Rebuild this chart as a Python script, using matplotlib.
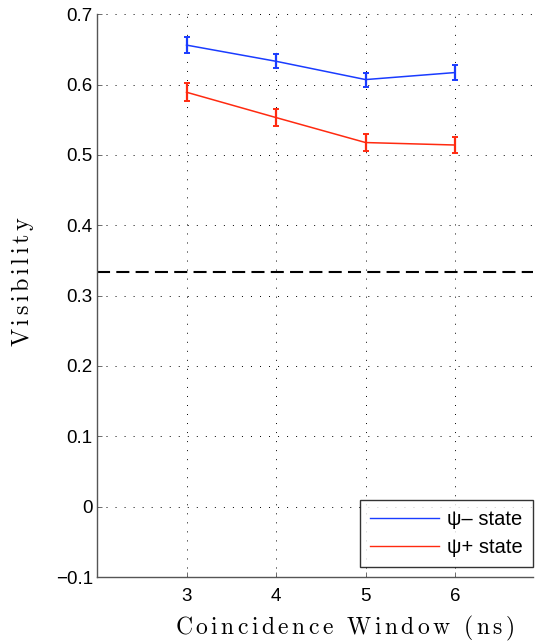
import matplotlib
matplotlib.use("Agg")
import matplotlib.pyplot as plt
import numpy as np

plt.rcParams['font.family'] = ['Liberation Sans', 'DejaVu Sans']
plt.rcParams['mathtext.fontset'] = 'cm'
plt.rcParams['lines.scale_dashes'] = False

# Data
window_ns = [3, 4, 5, 6]
vis_minus = [0.656, 0.633, 0.607, 0.617]
err_minus = [0.011, 0.010, 0.010, 0.011]
vis_plus = [0.589, 0.553, 0.5175, 0.514]
err_plus = [0.0125, 0.0115, 0.012, 0.0115]
classical_bound = 1 / 3
y_ticks = [-0.1, 0.0, 0.1, 0.2, 0.3, 0.4, 0.5, 0.6, 0.7]
labels = ['\u03c8\u2013 state', '\u03c8+ state']

blue = '#1a3cff'
red = '#ff2a10'


def spaced_cm(text):
    """Computer Modern text with a little tracking between letters."""
    parts = []
    for ch in text:
        if ch == ' ':
            parts.append(r'\ ')
        else:
            parts.append(ch)
    return '$\\mathrm{' + r'\,'.join(parts) + '}$'


fig = plt.figure(figsize=(5.36, 6.43), dpi=100)
ax = fig.add_axes([0.181, 0.1026, 0.8134, 0.8754])

ax.errorbar(window_ns, vis_minus, yerr=err_minus, color=blue, lw=1.1,
            elinewidth=1.6, capsize=2.3, capthick=1.4, zorder=3)
ax.errorbar(window_ns, vis_plus, yerr=err_plus, color=red, lw=1.1,
            elinewidth=1.6, capsize=2.3, capthick=1.4, zorder=3)
ax.axhline(classical_bound, color='black', lw=1.5, dashes=(9.4, 4.5), zorder=2)

ax.set_xlim(2, 6.87)
ax.set_ylim(-0.1, 0.7)
ax.set_xticks(window_ns)
ax.set_yticks(y_ticks)
ax.set_yticklabels(['\u22120.1' if v < 0 else ('0' if v == 0 else f'{v:.1f}') for v in y_ticks])

ax.grid(True, color='black', lw=0.7, dashes=(0.7, 5.8))
ax.set_axisbelow(True)

for side in ['top', 'right']:
    ax.spines[side].set_visible(False)
for side in ['left', 'bottom']:
    ax.spines[side].set_color('#555555')
    ax.spines[side].set_linewidth(1.0)

ax.tick_params(direction='in', length=3.5, width=0.6, colors='#555555',
               labelcolor='black', labelsize=13.5)
ax.tick_params(axis='x', pad=8)
ax.tick_params(axis='y', pad=3)

ax.set_ylabel(spaced_cm('Visibility'), fontsize=17.5)
ax.yaxis.set_label_coords(-0.14, 0.525, transform=ax.transAxes)
ax.set_xlabel(spaced_cm('Coincidence Window (ns)'), fontsize=17)
ax.xaxis.set_label_coords(0.569, -0.066, transform=ax.transAxes)
ax.xaxis.label.set_va('top')

handles = [plt.Line2D([], [], color=blue, lw=1.0),
           plt.Line2D([], [], color=red, lw=1.0)]
leg = ax.legend(handles, labels, loc='lower right', bbox_to_anchor=(1.0, 0.017),
                fontsize=14.5, frameon=True, fancybox=False, handlelength=3.45,
                handletextpad=0.4, borderpad=0.5, labelspacing=0.45,
                borderaxespad=0)
leg.get_frame().set_edgecolor('black')
leg.get_frame().set_linewidth(1.0)

fig.savefig('out.png', dpi=100)
